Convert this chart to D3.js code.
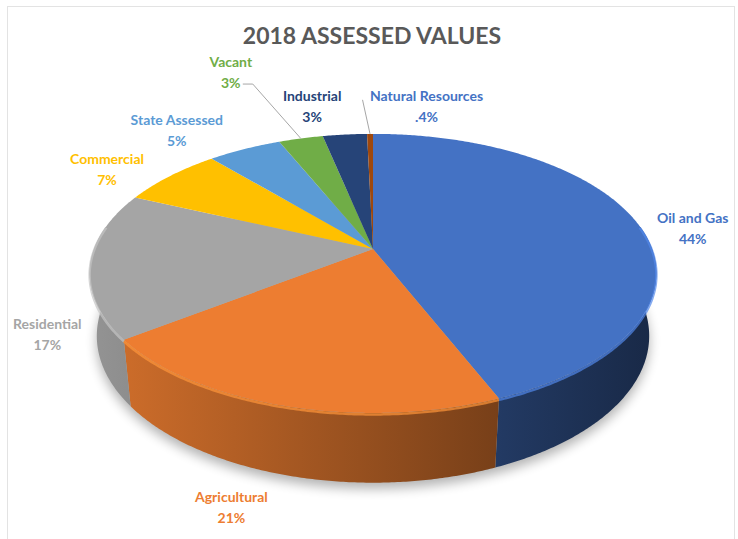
<!DOCTYPE html>
<html>
<head>
<meta charset="utf-8">
<script src="https://cdn.jsdelivr.net/npm/d3@7"></script>
<style>
	body { margin: 0; background: #fff; }
	svg text { font-family: Lato, "Open Sans", sans-serif; font-weight: bold; }
</style>
</head>
<body>
<div id="pie-3d"></div>
<script>
// data
const categories = ["Oil and Gas", "Agricultural", "Residential", "Commercial", "State Assessed", "Vacant", "Industrial", "Natural Resources"];
const values = [44, 21, 17, 7, 5, 3, 3, 0.4];
const pctLabels = ["44%", "21%", "17%", "7%", "5%", "3%", "3%", ".4%"];
const sliceColors = ["#4472C4", "#ED7D31", "#A5A5A5", "#FFC000", "#5B9BD5", "#70AD47", "#264478", "#9E480E"];
const labelColors = ["#4472C4", "#ED7D31", "#A5A5A5", "#FFC000", "#5B9BD5", "#70AD47", "#264478", "#4472C4"];
const chartTitle = "2018 ASSESSED VALUES";

// layout: label shift from the computed anchor, leader line offsets
const labelNudge = [[4, 9], [-30, 62], [15, 66], [-27, 6], [-46, -2], [-58, -48], [-28, -10], [57, -9]];
const leaders = [
	{ i: 5, from: [[12, 12], [22, 12]] },
	{ i: 7, from: [[-64, -6]] }
];

const W = 738, H = 539;
const view = { cx: 373, cy: 249, f: 1395, D: 5, tilt: 29 * Math.PI / 180, depth: 0.26 };

// perspective projection of a point on the pie (theta from 12 o'clock, clockwise)
function project(theta, r, yw) {
	const X = r * Math.sin(theta), Zw = r * Math.cos(theta);
	const s = Math.sin(view.tilt), c = Math.cos(view.tilt);
	const yc = yw * c + Zw * s, zc = Zw * c - yw * s;
	const k = view.f / (view.D + zc);
	return [view.cx + X * k, view.cy - yc * k];
}

function arcPts(a0, a1, yw) {
	const n = Math.max(2, Math.ceil(Math.abs(a1 - a0) / (Math.PI / 360)));
	return d3.range(n + 1).map(i => project(a0 + (a1 - a0) * i / n, 1, yw));
}

const svg = d3.select("#pie-3d")
	.append("svg")
	.attr("width", W)
	.attr("height", H);

const defs = svg.append("defs");
defs.append("filter").attr("id", "shadow-blur")
	.attr("x", "-20%").attr("y", "-20%").attr("width", "140%").attr("height", "140%")
	.append("feGaussianBlur").attr("stdDeviation", 6);

// frame
svg.append("rect")
	.attr("x", 7.5).attr("y", 6.5)
	.attr("width", 727).attr("height", 545)
	.attr("fill", "none")
	.attr("stroke", "#e3e3e3");

// title
svg.append("text")
	.attr("x", 372).attr("y", 44)
	.attr("text-anchor", "middle")
	.attr("fill", "#595959")
	.style("font-size", "23px")
	.text(chartTitle);

const pieGen = d3.pie().sort(null).startAngle(0).endAngle(2 * Math.PI);
const arcs = pieGen(values);
const line = d3.line();

// shadow under the pie
svg.append("path")
	.attr("d", line(arcPts(0, 2 * Math.PI, -view.depth)) + "Z")
	.attr("transform", "translate(0,6)")
	.attr("fill", "#000")
	.attr("opacity", 0.3)
	.attr("filter", "url(#shadow-blur)");

// side wall shading, lit from the left
const shade = d3.scaleLinear().domain([82, 662]).range([0.9, 0.35]);
sliceColors.forEach((c, i) => {
	const g = defs.append("linearGradient")
		.attr("id", "wall-" + i)
		.attr("gradientUnits", "userSpaceOnUse")
		.attr("x1", 82).attr("x2", 662).attr("y1", 0).attr("y2", 0);
	[0, 1].forEach(t => {
		const rgb = d3.rgb(c), k = shade(82 + t * 580);
		g.append("stop").attr("offset", t)
			.attr("stop-color", d3.rgb(rgb.r * k, rgb.g * k, rgb.b * k).formatHex());
	});
});

// walls (front half only)
const visLo = 80 * Math.PI / 180, visHi = 280 * Math.PI / 180;
svg.append("g").selectAll("path")
	.data(arcs.filter(d => d.endAngle > visLo && d.startAngle < visHi))
	.enter()
	.append("path")
	.attr("fill", d => "url(#wall-" + d.index + ")")
	.attr("d", d => {
		const a0 = Math.max(d.startAngle, visLo), a1 = Math.min(d.endAngle, visHi);
		const pts = arcPts(a0, a1, 0).concat(arcPts(a1, a0, -view.depth));
		return line(pts) + "Z";
	});

// top faces
const center = project(0, 0, 0);
svg.append("g").selectAll("path")
	.data(arcs)
	.enter()
	.append("path")
	.attr("fill", d => sliceColors[d.index])
	.attr("d", d => line([center].concat(arcPts(d.startAngle, d.endAngle, 0))) + "Z");

// bevel highlight on the front rim
svg.append("g").selectAll("path")
	.data(arcs.filter(d => d.endAngle > visLo && d.startAngle < visHi))
	.enter()
	.append("path")
	.attr("fill", "none")
	.attr("stroke", d => d3.color(sliceColors[d.index]).brighter(0.5))
	.attr("stroke-width", 2.5)
	.attr("opacity", 0.7)
	.attr("d", d => {
		const a0 = Math.max(d.startAngle, visLo), a1 = Math.min(d.endAngle, visHi);
		return line(arcPts(a0, a1, 0).map(p => [p[0], p[1] + 1.5]));
	});

// labels
const labelPos = arcs.map(d => {
	const mid = (d.startAngle + d.endAngle) / 2;
	const p = project(mid, 1.2, 0);
	return [p[0] + labelNudge[d.index][0], p[1] + labelNudge[d.index][1]];
});

leaders.forEach(l => {
	const d = arcs[l.i];
	const [lx, ly] = labelPos[l.i];
	const pts = l.from.map(o => [lx + o[0], ly + o[1]]);
	pts.push(project((d.startAngle + d.endAngle) / 2, 1, 0));
	svg.append("path")
		.attr("d", line(pts))
		.attr("fill", "none")
		.attr("stroke", "#a6a6a6")
		.attr("stroke-width", 1);
});

const labels = svg.append("g").selectAll("text")
	.data(arcs)
	.enter()
	.append("text")
	.attr("text-anchor", "middle")
	.attr("fill", d => labelColors[d.index])
	.style("font-size", "14px");

labels.append("tspan")
	.attr("x", d => labelPos[d.index][0])
	.attr("y", d => labelPos[d.index][1] - 5)
	.text(d => categories[d.index]);
labels.append("tspan")
	.attr("x", d => labelPos[d.index][0])
	.attr("y", d => labelPos[d.index][1] + 16)
	.text(d => pctLabels[d.index]);
</script>
</body>
</html>
